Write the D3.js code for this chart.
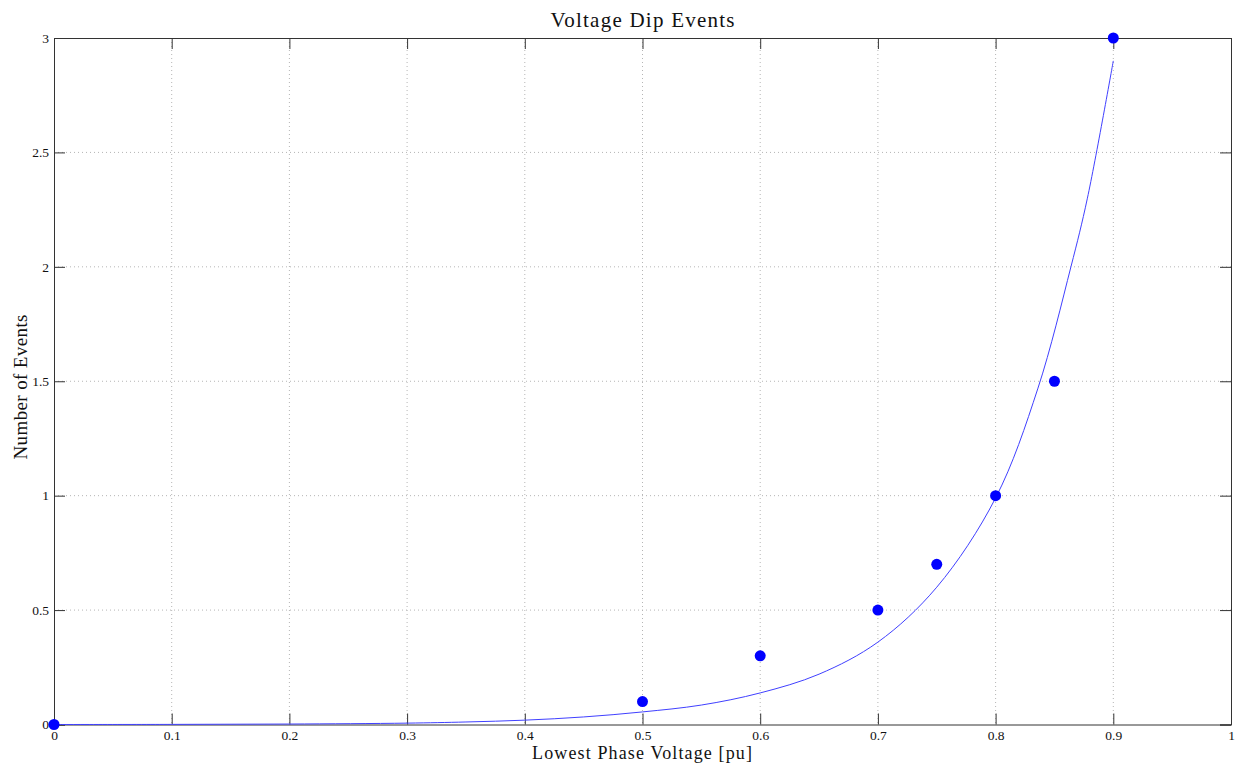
<!DOCTYPE html>
<html>
<head>
<meta charset="utf-8">
<script src="https://cdnjs.cloudflare.com/ajax/libs/d3/7.8.5/d3.min.js"></script>
<style>
  body { margin: 0; background: #fff; }
  text { font-family: "Liberation Serif", "Times New Roman", serif; fill: #111; }
</style>
</head>
<body>
<svg id="chart" width="1236" height="767"></svg>
<script>
// measured points
var voltage = [0, 0.5, 0.6, 0.7, 0.75, 0.8, 0.85, 0.9];
var events  = [0, 0.1, 0.3, 0.5, 0.7, 1.0, 1.5, 3.0];

// fitted curve
var fitX = [0, 0.1, 0.2, 0.3, 0.35, 0.4, 0.45, 0.5, 0.55, 0.6, 0.65, 0.7, 0.75, 0.8, 0.836, 0.864, 0.878, 0.9];
var fitY = [0, 0.0005, 0.002, 0.006, 0.011, 0.019, 0.033, 0.055, 0.085, 0.138, 0.22, 0.36, 0.6, 0.99, 1.47, 2.0, 2.3, 2.9];

var xTicks = [0, 0.1, 0.2, 0.3, 0.4, 0.5, 0.6, 0.7, 0.8, 0.9, 1];
var yTicks = [0, 0.5, 1, 1.5, 2, 2.5, 3];

var svg = d3.select("#chart"),
    margin = {top: 38, right: 5, bottom: 42.5, left: 54},
    width = +svg.attr("width") - margin.left - margin.right,
    height = +svg.attr("height") - margin.top - margin.bottom;

var x = d3.scaleLinear().domain([0, 1]).range([0, width]),
    y = d3.scaleLinear().domain([0, 3]).range([height, 0]);

var g = svg.append("g")
    .attr("transform", "translate(" + margin.left + "," + margin.top + ")");

// dotted grid
g.selectAll(".vgrid")
    .data(xTicks.slice(1, -1))
    .enter().append("line")
    .attr("x1", function(d) { return x(d); })
    .attr("x2", function(d) { return x(d); })
    .attr("y1", 0).attr("y2", height)
    .attr("stroke", "#b5b5b5")
    .attr("stroke-dasharray", "1,3");

g.selectAll(".hgrid")
    .data(yTicks.slice(1, -1))
    .enter().append("line")
    .attr("y1", function(d) { return y(d); })
    .attr("y2", function(d) { return y(d); })
    .attr("x1", 0).attr("x2", width)
    .attr("stroke", "#b5b5b5")
    .attr("stroke-dasharray", "1,3");

// axes, ticks pointing inward
function fmt(d) { return d3.format("")(+d.toFixed(2)); }

var xb = g.append("g").attr("transform", "translate(0," + height + ")")
    .call(d3.axisBottom(x).tickValues(xTicks).tickSize(-11).tickPadding(6).tickFormat(fmt));
var xt = g.append("g")
    .call(d3.axisTop(x).tickValues(xTicks).tickSize(-11).tickFormat(""));
var yl = g.append("g")
    .call(d3.axisLeft(y).tickValues(yTicks).tickSize(-11).tickPadding(5).tickFormat(fmt));
var yr = g.append("g").attr("transform", "translate(" + width + ",0)")
    .call(d3.axisRight(y).tickValues(yTicks).tickSize(-11).tickFormat(""));

[xb, xt, yl, yr].forEach(function(a) {
  a.select(".domain").attr("stroke", "#333");
  a.selectAll(".tick line").attr("stroke", "#333");
  a.selectAll("text")
    .style("font-family", "Liberation Serif, serif")
    .style("font-size", "13.5px")
    .attr("fill", "#111");
});

// fitted curve
var line = d3.line()
    .x(function(d) { return x(d[0]); })
    .y(function(d) { return y(d[1]); })
    .curve(d3.curveCatmullRom.alpha(0.5));

g.append("path")
    .datum(d3.zip(fitX, fitY))
    .attr("fill", "none")
    .attr("stroke", "#4040ff")
    .attr("stroke-width", 1)
    .attr("d", line);

// data points
g.selectAll(".dot")
    .data(d3.zip(voltage, events))
    .enter().append("circle")
    .attr("cx", function(d) { return x(d[0]); })
    .attr("cy", function(d) { return y(d[1]); })
    .attr("r", 5.5)
    .attr("fill", "#0000ff");

// titles
svg.append("text")
    .attr("x", margin.left + width / 2)
    .attr("y", 27)
    .attr("text-anchor", "middle")
    .attr("textLength", 184)
    .style("font-size", "21px")
    .text("Voltage Dip Events");

svg.append("text")
    .attr("x", 642)
    .attr("y", 759)
    .attr("text-anchor", "middle")
    .attr("textLength", 220)
    .style("font-size", "18px")
    .text("Lowest Phase Voltage [pu]");

svg.append("text")
    .attr("transform", "translate(27,387) rotate(-90)")
    .attr("text-anchor", "middle")
    .attr("textLength", 145)
    .style("font-size", "19px")
    .text("Number of Events");
</script>
</body>
</html>
